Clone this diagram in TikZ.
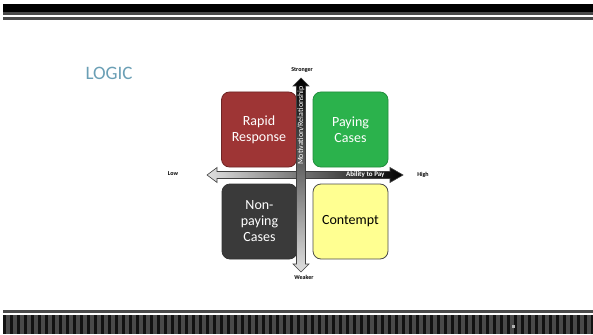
\documentclass[tikz,border=0pt]{standalone}
\usepackage{fontspec}
\setmainfont{Carlito}
\usetikzlibrary{positioning}

\definecolor{logicblue}{HTML}{6A9FB5}
\definecolor{rapidred}{HTML}{9E3535}
\definecolor{payinggreen}{HTML}{2BB24C}
\definecolor{nonpaygray}{HTML}{3A3A3A}
\definecolor{contemptyellow}{HTML}{FFFF91}
\definecolor{stripegray}{HTML}{4A4A4A}
\definecolor{stripedark}{HTML}{121212}

\tikzset{
  quad/.style={rounded corners=8pt, minimum width=75pt, minimum height=75pt,
    align=center, font=\fontsize{14}{16}\selectfont, line width=0.8pt},
  axislabel/.style={font=\fontsize{6}{7}\selectfont\bfseries},
  arrowedge/.style={draw=black!75, line width=0.6pt, line join=miter}
}

\begin{document}
\begin{tikzpicture}[x=1pt,y=-1pt]
    \useasboundingbox (0,0) rectangle (593,334);
    \fill[white] (0,0) rectangle (593,334);
    % header bars
    \fill[black] (3,4) rectangle (593,12);
    \fill[stripegray] (3,12) rectangle (593,15);
    \fill[stripegray] (3,17) rectangle (593,20);
    % footer bars
    \fill[stripegray] (3,310) rectangle (593,312.5);
    \fill[stripedark] (3,314.5) rectangle (593,334);
    \foreach \x in {6,13,...,590}
        \fill[stripegray] (\x,314.5) rectangle ++(3.5,19.5);
    \fill[gray!60] (512,324.5) rectangle ++(3,3);

    \node[text=logicblue, font=\fontsize{19}{22}\selectfont, anchor=base west] (title) at (82,79.5) {LOGIC};

    % the four quadrants
    \node[quad, fill=rapidred, draw=rapidred!70!black, text=white] (rapid) at (259,129.5) {Rapid\\Response};
    \node[quad, fill=payinggreen, draw=payinggreen!80!black, text=white] (paying) at (350.5,129.5) {Paying\\Cases};
    \node[quad, fill=nonpaygray, draw=black!80, text=white] (nonpay) at (259.5,221.5) {Non-\\paying\\Cases};
    \node[quad, fill=contemptyellow, draw=black!70, text=black] (contempt) at (350.5,221.5) {Contempt};

    % horizontal axis: ability to pay
    \shade[left color=gray!25, right color=black]
        (207,175) -- (217,167.5) -- (217,171.5) -- (390,171.5) -- (390,167.5)
        -- (403,175) -- (390,182.5) -- (390,178.5) -- (217,178.5) -- (217,182.5) -- cycle;
    \draw[arrowedge]
        (207,175) -- (217,167.5) -- (217,171.5) -- (390,171.5) -- (390,167.5)
        -- (403,175) -- (390,182.5) -- (390,178.5) -- (217,178.5) -- (217,182.5) -- cycle;
    \node[axislabel, font=\fontsize{7}{8}\selectfont\bfseries, text=white, anchor=east] (pay) at (388,175) {Ability to Pay};

    % vertical axis: motivation
    \shade[top color=black, bottom color=gray!25]
        (301,78) -- (309,86) -- (305.5,86) -- (305.5,264) -- (309,264)
        -- (301,272) -- (293,264) -- (296.5,264) -- (296.5,86) -- (293,86) -- cycle;
    \draw[arrowedge]
        (301,78) -- (309,86) -- (305.5,86) -- (305.5,264) -- (309,264)
        -- (301,272) -- (293,264) -- (296.5,264) -- (296.5,86) -- (293,86) -- cycle;
    \node[font=\fontsize{8}{9}\selectfont, text=white, rotate=90, anchor=east, inner sep=1pt] (motiv) at (301,85) {Motivation/Relationship};

    % axis ends
    \node[axislabel] (strong) at (302,70) {Stronger};
    \node[axislabel] (weak) at (304,277.5) {Weaker};
    \node[axislabel] (low) at (173,174) {Low};
    \node[axislabel] (high) at (423,175) {High};
\end{tikzpicture}
\end{document}
